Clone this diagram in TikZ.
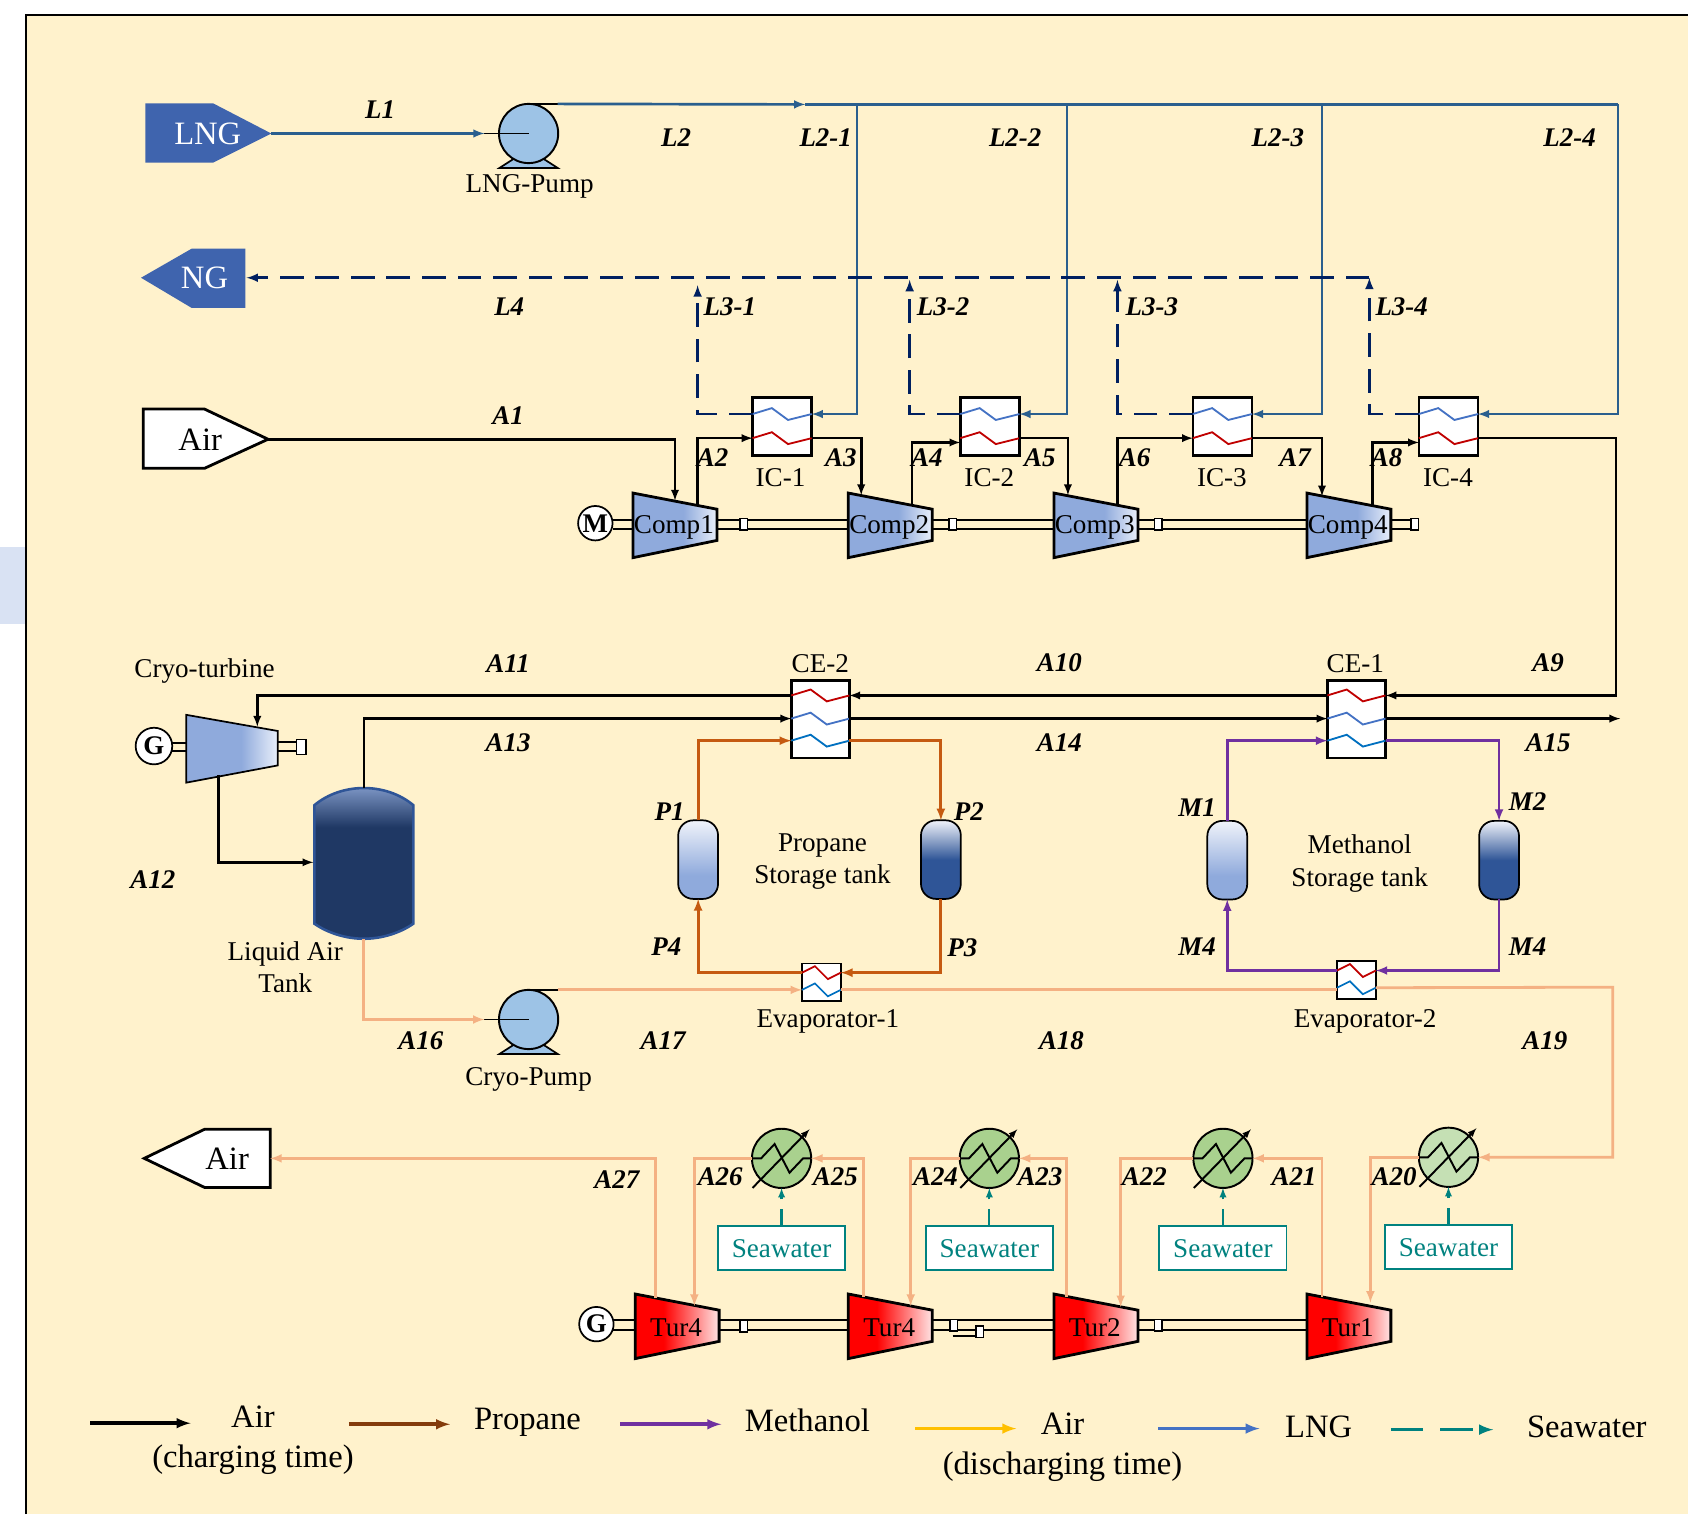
\documentclass[tikz,border=0pt]{standalone}
\usepackage{fontspec}
\setmainfont{Liberation Serif}
\usepackage{xcolor}
\usepackage{tikz}

\definecolor{cream}{HTML}{FFF2CC}
\definecolor{sidetint}{HTML}{D9E2F3}
\definecolor{lngblue}{HTML}{2A5F8E}
\definecolor{ngnavy}{HTML}{002060}
\definecolor{srcblue}{HTML}{3F64AE}
\definecolor{pumpblue}{HTML}{9DC3E6}
\definecolor{dischair}{HTML}{F4B183}
\definecolor{propane}{HTML}{C55A11}
\definecolor{methanol}{HTML}{7030A0}
\definecolor{seateal}{HTML}{00827F}
\definecolor{hotred}{HTML}{C00000}
\definecolor{coilblue}{HTML}{4472C4}
\definecolor{coilsky}{HTML}{0070C0}
\definecolor{compblue}{HTML}{8FAADC}
\definecolor{compwhite}{HTML}{E9EFFA}
\definecolor{turwhite}{HTML}{FFE4E4}
\definecolor{tanknavy}{HTML}{1F3864}
\definecolor{tanktop}{HTML}{7A93C2}
\definecolor{tankedge}{HTML}{2F5597}
\definecolor{paleblue}{HTML}{F0F3FA}
\definecolor{coolgreen}{HTML}{A9D18E}
\definecolor{coolpale}{HTML}{C5E0B4}

\pgfdeclarehorizontalshading{compshade}{100bp}{color(0bp)=(compblue); color(25bp)=(compblue); color(55bp)=(compblue); color(75bp)=(compwhite); color(100bp)=(compwhite)}
\pgfdeclarehorizontalshading{turshade}{100bp}{color(0bp)=(red); color(25bp)=(red); color(42bp)=(red); color(75bp)=(turwhite); color(100bp)=(turwhite)}
\pgfdeclareverticalshading{tankshade}{100bp}{color(0bp)=(tanknavy); color(25bp)=(tanknavy); color(62bp)=(tanknavy); color(75bp)=(tanktop); color(100bp)=(tanktop)}
\pgfdeclareverticalshading{lighttank}{100bp}{color(0bp)=(compblue); color(25bp)=(compblue); color(40bp)=(compblue); color(75bp)=(paleblue); color(100bp)=(paleblue)}
\pgfdeclareverticalshading{darktank}{100bp}{color(0bp)=(tankedge); color(25bp)=(tankedge); color(50bp)=(tankedge); color(75bp)=(paleblue); color(100bp)=(paleblue)}

\tikzset{
  airline/.style={draw=black,line width=2.4pt,->},
  lngline/.style={draw=lngblue,line width=2.5pt},
  ngline/.style={draw=ngnavy,line width=2.6pt,dash pattern=on 22pt off 11pt,->},
  dischline/.style={draw=dischair,line width=2.6pt},
  propline/.style={draw=propane,line width=2.7pt,->},
  methline/.style={draw=methanol,line width=2.6pt,->},
  sealine/.style={draw=seateal,line width=2pt,dash pattern=on 16pt off 9pt,->},
  hxbox/.style={draw=black,fill=white,line width=2.4pt,inner sep=0,outer sep=0},
  swbox/.style={draw=seateal,fill=white,line width=1.8pt,text=seateal,minimum width=118pt,minimum height=41pt,inner sep=0,outer sep=0,font=\fontsize{25.2}{30}\selectfont},
  keybox/.style={draw=black,fill=white,line width=1.5pt,minimum width=7pt,minimum height=11pt,inner sep=0},
  shaftline/.style={draw=black,line width=1.8pt},
  roundbox/.style={draw=black,fill=white,circle,line width=1.6pt,minimum size=32pt,inner sep=0,outer sep=0,font=\fontsize{25}{30}\selectfont\bfseries},
  storetank/.style={draw=black,line width=1.6pt,rounded corners=14pt,minimum width=37pt,minimum height=73pt,inner sep=0,outer sep=0},
  lbl/.style={inner sep=0,font=\fontsize{25}{30}\selectfont\bfseries\itshape},
  txt/.style={inner sep=0,align=center,yshift=-2.5pt,font=\fontsize{25.2}{30}\selectfont},
  bigtxt/.style={inner sep=0,align=center,font=\fontsize{30.3}{37}\selectfont},
}

% name, left x, centre y, shading, text
\newcommand{\machine}[5]{
  \shadedraw[draw=black,line width=2.6pt,line join=miter,shading=#4] (#2,#3-30) -- (#2+78,#3-15) -- (#2+78,#3+14) -- (#2,#3+30) -- cycle;
  \node[txt] (#1) at (#2+38,#3-1) {#5};
}
% name, left x
\newcommand{\icbox}[2]{
  \node[hxbox,minimum width=55pt,minimum height=54pt] (#1) at (#2+27.5,396) {};
  \coordinate (#1cw) at (#2,384.6);
  \coordinate (#1ce) at (#2+55,384.6);
  \coordinate (#1hw) at (#2,407);
  \coordinate (#1he) at (#2+55,407);
  \draw[hotred,line width=1.7pt] (#1hw) -- ++(18,-5.5) -- ++(15,11) -- ++(22,-5.5);
  \draw[coilblue,line width=1.7pt] (#1cw) -- ++(18,-5.5) -- ++(15,11) -- ++(22,-5.5);
}
% name, left x
\newcommand{\cebox}[2]{
  \node[hxbox,minimum width=54pt,minimum height=72pt] (#1) at (#2+27,668) {};
  \coordinate (#1aw) at (#2,646);
  \coordinate (#1ae) at (#2+54,646);
  \coordinate (#1bw) at (#2,667.5);
  \coordinate (#1be) at (#2+54,667.5);
  \coordinate (#1cw) at (#2,688);
  \coordinate (#1ce) at (#2+54,688);
  \draw[hotred,line width=1.7pt] (#1aw) -- ++(18,-5.5) -- ++(15,11) -- ++(21,-5.5);
  \draw[coilblue,line width=1.7pt] (#1bw) -- ++(18,-5.5) -- ++(15,11) -- ++(21,-5.5);
  \draw[coilsky,line width=1.7pt] (#1cw) -- ++(18,-5.5) -- ++(15,11) -- ++(21,-5.5);
}
% name, left x, centre y
\newcommand{\evapbox}[3]{
  \node[hxbox,line width=1.7pt,minimum width=36pt,minimum height=35pt] (#1) at (#2+18,#3) {};
  \coordinate (#1hw) at (#2,#3-9);
  \coordinate (#1he) at (#2+36,#3-9);
  \coordinate (#1cw) at (#2,#3+7);
  \coordinate (#1ce) at (#2+36,#3+7);
  \draw[hotred,line width=1.6pt] (#1hw) -- ++(12,-6) -- ++(12,12) -- ++(12,-6);
  \draw[coilsky,line width=1.6pt] (#1cw) -- ++(12,-6) -- ++(12,12) -- ++(12,-6);
}
% name, centre x, centre y
\newcommand{\pumpunit}[3]{
  \draw[fill=pumpblue,line width=1.6pt] (#2-13,#3+23) -- (#2+13,#3+23) -- (#2+27,#3+32) -- (#2-27,#3+32) -- cycle;
  \node[draw=black,fill=pumpblue,circle,line width=1.8pt,minimum size=55pt,inner sep=0,outer sep=0] (#1) at (#2,#3) {};
  \coordinate (#1in) at (#2-41,#3);
  \coordinate (#1top) at (#2+27,#3-27.5);
  \draw[line width=1.8pt] (#1in) -- (#1.center);
  \draw[line width=1.8pt] (#2,#3-27.5) -- (#1top);
}
% name, centre x, centre y, fill
\newcommand{\coolunit}[4]{
  \node[draw=black,fill=#4,circle,line width=1.8pt,minimum size=55pt,inner sep=0,outer sep=0] (#1) at (#2,#3) {};
  \draw[line width=1.8pt] (#2-27,#3) -- (#2-19,#3) -- (#2-6.5,#3-13.3) -- (#2+7.4,#3+13.3) -- (#2+20,#3) -- (#2+27,#3);
  \draw[line width=1.8pt,->] (#2-27,#3+27.5) -- (#2+26,#3-27);
}

\begin{document}
\begin{tikzpicture}[x=1pt,y=-1pt,>=latex]
      \useasboundingbox (0,0) rectangle (1568,1406.4);
      \fill[white] (0,0) rectangle (1568,1406.4);
      \fill[sidetint] (0,508) rectangle (24,580);
      \fill[cream] (24,14) rectangle (1568,1406.4);
      \draw[line width=1.6pt] (24,1406.4) -- (24,14) -- (1568,14);

      % fixed ports
      \coordinate (lngtip) at (252,124);
      \coordinate (airtip) at (249,408);
      \coordinate (ngtip) at (229,258);
      \coordinate (outairtip) at (251,1076);
      \coordinate (l2mid) at (748,97);
      \coordinate (l2a) at (796,97);
      \coordinate (l2b) at (991,97);
      \coordinate (l2c) at (1228,97);
      \coordinate (l2d) at (1503,97);
      \coordinate (ng1) at (648,265);
      \coordinate (ng2) at (845,260);
      \coordinate (ng3) at (1038,260);
      \coordinate (ng4) at (1272,258);
      \coordinate (comp1in) at (627,465);
      \coordinate (comp2in) at (800,460);
      \coordinate (comp3in) at (992,460);
      \coordinate (comp4in) at (1228,461);
      \coordinate (comp1out) at (648,469);
      \coordinate (comp2out) at (847,469);
      \coordinate (comp3out) at (1038,469);
      \coordinate (comp4out) at (1275,470);
      \coordinate (a9bend) at (1501,646);
      \coordinate (a15end) at (1505,667.5);
      \coordinate (cryoin) at (239,675);
      \coordinate (cryoout) at (203,720);
      \coordinate (tanktopin) at (338,732);
      \coordinate (tankside) at (291,801);
      \coordinate (tankbot) at (338,872);
      \coordinate (a19bend) at (1498,917);
      \coordinate (tur4ain) at (645,1213);
      \coordinate (tur4aout) at (609,1206);
      \coordinate (tur4bin) at (846,1213);
      \coordinate (tur4bout) at (802,1205);
      \coordinate (tur2in) at (1041,1214);
      \coordinate (tur2out) at (991,1205);
      \coordinate (tur1in) at (1273,1210);
      \coordinate (tur1out) at (1228,1205);

      % sources and sinks
      \fill[srcblue] (135,96) -- (198,96) -- (252,124) -- (198,151) -- (135,151) -- cycle;
      \node[bigtxt,text=white] (lng) at (193,124) {LNG};
      \fill[srcblue] (131,258) -- (178,231) -- (228,231) -- (228,286) -- (178,286) -- cycle;
      \node[bigtxt,text=white] (ng) at (190,258) {NG};
      \draw[fill=white,line width=2.6pt] (133,380) -- (190,380) -- (249,408) -- (190,435) -- (133,435) -- cycle;
      \node[bigtxt] (airsrc) at (186,408) {Air};
      \draw[fill=white,line width=2.6pt] (134,1076) -- (190,1049) -- (251,1049) -- (251,1103) -- (190,1103) -- cycle;
      \node[bigtxt] (airout) at (211,1076) {Air};

      % shafts
      \foreach \shafty in {483,491} {
        \draw[shaftline] (569,\shafty) -- (1314,\shafty);
      }
      \foreach \shafty in {1226,1235} {
        \draw[shaftline] (569,\shafty) -- (1214,\shafty);
      }
      \draw[shaftline] (160,690) -- (173,690);
      \draw[shaftline] (160,698) -- (173,698);
      \draw[shaftline] (258,689) -- (276,689);
      \draw[shaftline] (258,698) -- (276,698);
      \draw[shaftline] (885,1241) -- (910,1241);

      \node[keybox] (key1) at (691,487) {};
      \node[keybox] (key2) at (885,487) {};
      \node[keybox] (key3) at (1076,487) {};
      \node[keybox] (key4) at (1314,487) {};
      \node[keybox] (key5) at (691,1232) {};
      \node[keybox] (key6) at (886,1231) {};
      \node[keybox] (key7) at (910,1237) {};
      \node[keybox] (key8) at (1076,1231) {};
      \node[keybox,minimum width=9pt,minimum height=14pt] (key9) at (280,694) {};

      \node[roundbox] (motor) at (553,486) {M};
      \node[roundbox,minimum size=34pt] (gencryo) at (143,693) {G};
      \node[roundbox] (gentur) at (554,1230) {G};

      % machines
      \machine{comp1}{588}{488}{compshade}{Comp1}
      \machine{comp2}{788}{488}{compshade}{Comp2}
      \machine{comp3}{979}{488}{compshade}{Comp3}
      \machine{comp4}{1214}{488}{compshade}{Comp4}
      \machine{tur4a}{590}{1232}{turshade}{Tur4}
      \machine{tur4b}{788}{1232}{turshade}{Tur4}
      \machine{tur2}{979}{1232}{turshade}{Tur2}
      \machine{tur1}{1214}{1232}{turshade}{Tur1}
      \shadedraw[draw=black,line width=1.6pt,shading=compshade] (173,664) -- (258,679) -- (258,711) -- (173,727) -- cycle;

      % heat exchangers
      \icbox{ic1}{699}
      \icbox{ic2}{892}
      \icbox{ic3}{1108}
      \icbox{ic4}{1318}
      \cebox{ce2}{735}
      \cebox{ce1}{1233}
      \evapbox{evap1}{745}{912.5}
      \evapbox{evap2}{1242}{910.5}

      % tanks and pumps
      \shadedraw[draw=tankedge,line width=2.4pt,shading=tankshade] (292,748) .. controls (305,737) and (322,732) .. (338,732) .. controls (354,732) and (371,737) .. (384,748) -- (384,858) .. controls (371,867) and (354,872) .. (338,872) .. controls (322,872) and (305,867) .. (292,858) -- cycle;
      \node[storetank,shading=lighttank] (p1tank) at (648.5,798.5) {};
      \node[storetank,shading=darktank] (p2tank) at (874,798.5) {};
      \node[storetank,shading=lighttank] (m1tank) at (1140,799) {};
      \node[storetank,shading=darktank] (m2tank) at (1392.5,799) {};
      \pumpunit{lngpump}{491}{124}
      \pumpunit{cryopump}{491}{947}
      \coolunit{cool1}{726}{1076}{coolgreen}
      \coolunit{cool2}{919}{1076}{coolgreen}
      \coolunit{cool3}{1136}{1076}{coolgreen}
      \coolunit{cool4}{1345.5}{1075}{coolpale}

      % LNG side
      \draw[lngline,->] (lngtip) -- (lngpumpin);
      \draw[lngline,->] (lngpumptop) -- (l2mid);
      \draw[lngline] (l2mid) -- (l2d);
      \draw[lngline,->] (l2a) |- (ic1ce);
      \draw[lngline,->] (l2b) |- (ic2ce);
      \draw[lngline,->] (l2c) |- (ic3ce);
      \draw[lngline,->] (l2d) |- (ic4ce);
      \draw[ngline] (ng4) -- (ngtip);
      \draw[ngline] (ic1cw) -| (ng1);
      \draw[ngline] (ic2cw) -| (ng2);
      \draw[ngline] (ic3cw) -| (ng3);
      \draw[ngline] (ic4cw) -| (ng4);

      % air side, charging
      \draw[airline] (airtip) -| (comp1in);
      \draw[airline] (comp1out) |- (ic1hw);
      \draw[airline] (ic1he) -| (comp2in);
      \draw[airline] (comp2out) |- ([yshift=-4pt]ic2hw);
      \draw[airline] (ic2he) -| (comp3in);
      \draw[airline] (comp3out) |- (ic3hw);
      \draw[airline] (ic3he) -| (comp4in);
      \draw[airline] (comp4out) |- ([yshift=-4pt]ic4hw);
      \draw[airline] (ic4he) -| (a9bend) -- (ce1ae);
      \draw[airline] (ce1aw) -- (ce2ae);
      \draw[airline] (ce2aw) -| (cryoin);
      \draw[airline] (cryoout) |- (tankside);
      \draw[airline] (tanktopin) |- (ce2bw);
      \draw[airline] (ce2be) -- (ce1bw);
      \draw[airline] (ce1be) -- (a15end);

      % cold storage loops
      \draw[propline] (p1tank.north) |- (ce2cw);
      \draw[propline] (ce2ce) -| (p2tank.north);
      \draw[propline] (p2tank.south) |- (evap1he);
      \draw[propline] (evap1hw) -| (p1tank.south);
      \draw[methline] (m1tank.north) |- (ce1cw);
      \draw[methline] (ce1ce) -| (m2tank.north);
      \draw[methline] (m2tank.south) |- (evap2he);
      \draw[methline] (evap2hw) -| (m1tank.south);

      % air side, discharging
      \draw[dischline,->] (tankbot) |- (cryopumpin);
      \draw[dischline,->] (cryopumptop) -- (evap1cw);
      \draw[dischline] (evap1ce) -- (evap1ce -| evap2cw);
      \draw[dischline,->] (evap2ce) -- (a19bend) |- (cool4.east);
      \draw[dischline,->] (cool4.west) -| (tur1in);
      \draw[dischline,->] (tur1out) |- (cool3.east);
      \draw[dischline,->] (cool3.west) -| (tur2in);
      \draw[dischline,->] (tur2out) |- (cool2.east);
      \draw[dischline,->] (cool2.west) -| (tur4bin);
      \draw[dischline,->] (tur4bout) |- (cool1.east);
      \draw[dischline,->] (cool1.west) -| (tur4ain);
      \draw[dischline,->] (tur4aout) |- (outairtip);

      % seawater
      \node[swbox] (sea1) at (726,1159.5) {Seawater};
      \node[swbox] (sea2) at (919,1159.5) {Seawater};
      \node[swbox] (sea3) at (1136,1159.5) {Seawater};
      \node[swbox] (sea4) at (1345.5,1158.5) {Seawater};
      \draw[sealine] (sea1) -- (cool1);
      \draw[sealine] (sea2) -- (cool2);
      \draw[sealine] (sea3) -- (cool3);
      \draw[sealine] (sea4) -- (cool4);

      % stream labels
      \node[lbl] (lblL1) at (353,102) {L1};
      \node[lbl] (lblL2) at (628,128) {L2};
      \node[lbl] (lblL2a) at (767,128) {L2-1};
      \node[lbl] (lblL2b) at (943,128) {L2-2};
      \node[lbl] (lblL2c) at (1187,128) {L2-3};
      \node[lbl] (lblL2d) at (1458,128) {L2-4};
      \node[lbl] (lblL4) at (473,285) {L4};
      \node[lbl] (lblL3a) at (678,285) {L3-1};
      \node[lbl] (lblL3b) at (876,285) {L3-2};
      \node[lbl] (lblL3c) at (1070,285) {L3-3};
      \node[lbl] (lblL3d) at (1302,285) {L3-4};
      \node[lbl] (lblA1) at (472,386) {A1};
      \node[lbl] (lblA2) at (662,425) {A2};
      \node[lbl] (lblA3) at (781,425) {A3};
      \node[lbl] (lblA4) at (861,425) {A4};
      \node[lbl] (lblA5) at (966,425) {A5};
      \node[lbl] (lblA6) at (1054,425) {A6};
      \node[lbl] (lblA7) at (1203,425) {A7};
      \node[lbl] (lblA8) at (1288,425) {A8};
      \node[lbl] (lblA9) at (1438,616) {A9};
      \node[lbl] (lblA10) at (984,616) {A10};
      \node[lbl] (lblA11) at (472,616) {A11};
      \node[lbl] (lblA12) at (142,817) {A12};
      \node[lbl] (lblA13) at (472,690) {A13};
      \node[lbl] (lblA14) at (984,690) {A14};
      \node[lbl] (lblA15) at (1438,690) {A15};
      \node[lbl] (lblA16) at (391,967) {A16};
      \node[lbl] (lblA17) at (616,967) {A17};
      \node[lbl] (lblA18) at (986,967) {A18};
      \node[lbl] (lblA19) at (1435,967) {A19};
      \node[lbl] (lblA20) at (1295,1093) {A20};
      \node[lbl] (lblA21) at (1202,1093) {A21};
      \node[lbl] (lblA22) at (1063,1093) {A22};
      \node[lbl] (lblA23) at (966,1093) {A23};
      \node[lbl] (lblA24) at (869,1093) {A24};
      \node[lbl] (lblA25) at (776,1093) {A25};
      \node[lbl] (lblA26) at (669,1093) {A26};
      \node[lbl] (lblA27) at (573,1096) {A27};
      \node[lbl] (lblP1) at (622,754) {P1};
      \node[lbl] (lblP2) at (900,754) {P2};
      \node[lbl] (lblP3) at (894,880) {P3};
      \node[lbl] (lblP4) at (619,879) {P4};
      \node[lbl] (lblM1) at (1112,750) {M1};
      \node[lbl] (lblM2) at (1419,745) {M2};
      \node[lbl] (lblM3) at (1419,879) {M4};
      \node[lbl] (lblM4) at (1112,879) {M4};

      % equipment names
      \node[txt] (namelngpump) at (492,171) {LNG-Pump};
      \node[txt] (nameic1) at (725,441.5) {IC-1};
      \node[txt] (nameic2) at (919,441.5) {IC-2};
      \node[txt] (nameic3) at (1135,441.5) {IC-3};
      \node[txt] (nameic4) at (1345,441.5) {IC-4};
      \node[txt] (namece2) at (762,613.5) {CE-2};
      \node[txt] (namece1) at (1259,613.5) {CE-1};
      \node[txt] (namecryotur) at (190,621) {Cryo-turbine};
      \node[txt] (nametank) at (265,896) {Liquid Air\\Tank};
      \node[txt] (namepropane) at (764,798) {Propane\\Storage tank};
      \node[txt] (namemethanol) at (1263,799.5) {Methanol\\Storage tank};
      \node[txt] (nameevap1) at (769,946) {Evaporator-1};
      \node[txt] (nameevap2) at (1268,946) {Evaporator-2};
      \node[txt] (namecryopump) at (491,1000) {Cryo-Pump};

      % legend
      \coordinate (keyAs) at (84,1322);
      \coordinate (keyAe) at (177,1322);
      \coordinate (keyPs) at (324,1323);
      \coordinate (keyPe) at (418,1323);
      \coordinate (keyMs) at (576,1323);
      \coordinate (keyMe) at (670,1323);
      \coordinate (keyDs) at (850,1327);
      \coordinate (keyDe) at (944,1327);
      \coordinate (keyLs) at (1076,1327);
      \coordinate (keyLe) at (1170,1327);
      \coordinate (keySs) at (1292,1328);
      \coordinate (keySe) at (1387,1328);
      \draw[line width=3.4pt,->] (keyAs) -- (keyAe);
      \draw[line width=3.4pt,color={rgb,255:red,132;green,60;blue,12},->] (keyPs) -- (keyPe);
      \draw[line width=3.4pt,color=methanol,->] (keyMs) -- (keyMe);
      \draw[line width=3.4pt,color={rgb,255:red,255;green,192;blue,0},->] (keyDs) -- (keyDe);
      \draw[line width=3.4pt,color=coilblue,->] (keyLs) -- (keyLe);
      \draw[line width=3.4pt,color=seateal,dash pattern=on 30pt off 16pt,->] (keySs) -- (keySe);
      \node[bigtxt] (keyAir) at (235,1338) {Air\\(charging time)};
      \node[bigtxt] (keyPropane) at (490,1321) {Propane};
      \node[bigtxt] (keyMethanol) at (750,1319.5) {Methanol};
      \node[bigtxt] (keyDisch) at (987,1344.5) {Air\\(discharging time)};
      \node[bigtxt] (keyLNG) at (1225,1325) {LNG};
      \node[bigtxt] (keySea) at (1474,1325) {Seawater};
    \end{tikzpicture}
\end{document}
